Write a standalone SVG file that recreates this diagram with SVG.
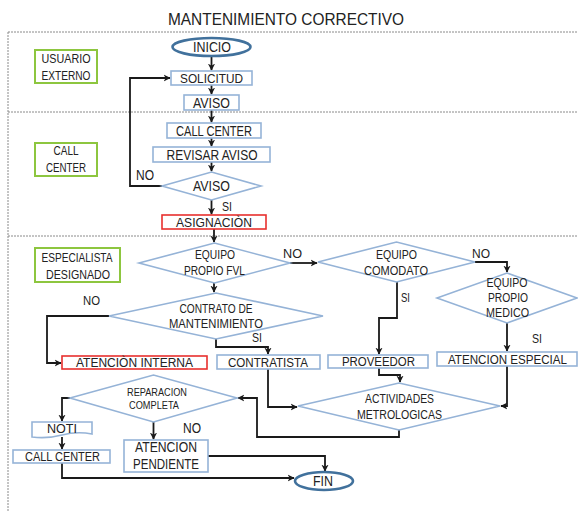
<svg xmlns="http://www.w3.org/2000/svg" width="578" height="511" viewBox="0 0 578 511">
<defs>
<marker id="ah" viewBox="0 0 10 10" refX="9" refY="5" markerWidth="4" markerHeight="4" orient="auto" markerUnits="strokeWidth">
<path d="M0,0 L10,5 L0,10 L3,5 Z" fill="#1a1a1a"/>
</marker>
<style>
text{font-family:"Liberation Sans",Arial,sans-serif;fill:#222;text-anchor:middle}
.t14{font-size:14px}
.t13{font-size:13px}
.t12{font-size:12px}
.t10{font-size:10px}
.box{fill:#fff;stroke:#95B3D7;stroke-width:1.6}
.red{fill:#fff;stroke:#E8302E;stroke-width:1.6}
.lane{fill:#fff;stroke:#8DC63F;stroke-width:2}
.term{fill:#fff;stroke:#41719C;stroke-width:2.6}
.div{stroke:#8a8a8a;stroke-width:1;stroke-dasharray:2,1;fill:none}
.c{fill:none;stroke:#1a1a1a;stroke-width:1.8;marker-end:url(#ah)}
</style>
</defs>
<rect width="578" height="511" fill="#fff"/>
<text x="286" y="25" style="font-size:16px" textLength="236" lengthAdjust="spacingAndGlyphs">MANTENIMIENTO CORRECTIVO</text>
<g id="lanes">
<path class="div" d="M8,32 H578 M8,112 H578 M8,236 H578 M8,32 V511"/>
</g>
<g id="lane-usuario"><rect class="lane" x="35" y="50" width="62" height="33"/>
<text class="t13" x="66" y="63" textLength="49" lengthAdjust="spacingAndGlyphs">USUARIO</text>
<text class="t13" x="66" y="80" textLength="49" lengthAdjust="spacingAndGlyphs">EXTERNO</text></g>
<g id="lane-callcenter"><rect class="lane" x="35" y="143" width="62" height="33"/>
<text class="t13" x="66" y="155" textLength="25" lengthAdjust="spacingAndGlyphs">CALL</text>
<text class="t13" x="66" y="172" textLength="40" lengthAdjust="spacingAndGlyphs">CENTER</text></g>
<g id="lane-especialista"><rect class="lane" x="35" y="248" width="85" height="34"/>
<text class="t12" x="77" y="262" textLength="71" lengthAdjust="spacingAndGlyphs">ESPECIALISTA</text>
<text class="t12" x="78" y="279" textLength="64" lengthAdjust="spacingAndGlyphs">DESIGNADO</text></g>

<g id="connectors">
<path class="c" d="M211.5,56 V70"/>
<path class="c" d="M211.5,85 V94"/>
<path class="c" d="M211.5,110 V122"/>
<path class="c" d="M211.5,138 V146"/>
<path class="c" d="M211.5,162 V171"/>
<path class="c" d="M211.5,200 V214"/>
<path class="c" d="M162,186 H130 V78 H170"/>
<path class="c" d="M214,229 V242"/>
<path class="c" d="M214,283 V292"/>
<path class="c" d="M290,263 H317"/>
<path class="c" d="M475,262 H507 V272"/>
<path class="c" d="M397,282 V318 H379 V354"/>
<path class="c" d="M507,323 V351"/>
<path class="c" d="M109,316 H47 V363 H61"/>
<path class="c" d="M216,339 V347 H268 V354"/>
<path class="c" d="M268,369 V407 H297"/>
<path class="c" d="M379,368 V375 H400 V382"/>
<path class="c" d="M507,366 V406 H501"/>
<path class="c" d="M399,430 V437 H257 V398 H238"/>
<path class="c" d="M70,398 H62 V421"/>
<path class="c" d="M62,437 V449"/>
<path class="c" d="M62,463 V478 H294"/>
<path class="c" d="M153.5,422 V439"/>
<path class="c" d="M208,456 H325 V471"/>
<text class="t14" x="145" y="180" textLength="18" lengthAdjust="spacingAndGlyphs">NO</text>
<text class="t13" x="227" y="211" textLength="10" lengthAdjust="spacingAndGlyphs">SI</text>
<text class="t13" x="292.5" y="258" textLength="19" lengthAdjust="spacingAndGlyphs">NO</text>
<text class="t13" x="91.5" y="305" textLength="17" lengthAdjust="spacingAndGlyphs">NO</text>
<text class="t13" x="257" y="342" textLength="10" lengthAdjust="spacingAndGlyphs">SI</text>
<text class="t13" x="481" y="258" textLength="18" lengthAdjust="spacingAndGlyphs">NO</text>
<text class="t13" x="405.5" y="302" textLength="9" lengthAdjust="spacingAndGlyphs">SI</text>
<text class="t13" x="537" y="343" textLength="10" lengthAdjust="spacingAndGlyphs">SI</text>
<text class="t14" x="192" y="433" textLength="18" lengthAdjust="spacingAndGlyphs">NO</text>
</g>

<g id="inicio"><ellipse class="term" cx="211.5" cy="47" rx="39" ry="9"/>
<text class="t14" x="212" y="52" textLength="38" lengthAdjust="spacingAndGlyphs">INICIO</text></g>
<g id="solicitud"><rect class="box" x="171" y="71" width="81" height="14"/>
<text class="t13" x="211.5" y="83" textLength="63" lengthAdjust="spacingAndGlyphs">SOLICITUD</text></g>
<g id="aviso"><rect class="box" x="184" y="95" width="55" height="15"/>
<text class="t14" x="211.5" y="108" textLength="37" lengthAdjust="spacingAndGlyphs">AVISO</text></g>
<g id="callcenter"><rect class="box" x="167" y="123" width="94" height="15"/>
<text class="t14" x="214" y="136" textLength="76" lengthAdjust="spacingAndGlyphs">CALL CENTER</text></g>
<g id="revisar"><rect class="box" x="153" y="147" width="117" height="15"/>
<text class="t14" x="212" y="160" textLength="91" lengthAdjust="spacingAndGlyphs">REVISAR AVISO</text></g>
<g id="aviso-decision"><polygon class="box" points="162,186 211.5,172 261,186 211.5,200"/>
<text class="t14" x="211.5" y="191" textLength="37" lengthAdjust="spacingAndGlyphs">AVISO</text></g>
<g id="asignacion"><rect class="red" x="162" y="215" width="104" height="14"/>
<text class="t13" x="214" y="227" textLength="76" lengthAdjust="spacingAndGlyphs">ASIGNACIÒN</text></g>

<g id="equipo-fvl"><polygon class="box" points="139,263 214.5,243 290,263 214.5,283"/>
<text class="t12" x="215" y="259" textLength="40" lengthAdjust="spacingAndGlyphs">EQUIPO</text>
<text class="t12" x="214.5" y="275" textLength="61" lengthAdjust="spacingAndGlyphs">PROPIO FVL</text></g>
<g id="equipo-comodato"><polygon class="box" points="318,262 396.5,242 475,262 396.5,282"/>
<text class="t12" x="396.5" y="259" textLength="41" lengthAdjust="spacingAndGlyphs">EQUIPO</text>
<text class="t12" x="396" y="275" textLength="64" lengthAdjust="spacingAndGlyphs">COMODATO</text></g>
<g id="equipo-medico"><polygon class="box" points="437,298 507,273 577,298 507,323"/>
<text class="t12" x="507" y="287" textLength="41" lengthAdjust="spacingAndGlyphs">EQUIPO</text>
<text class="t12" x="508" y="302" textLength="40" lengthAdjust="spacingAndGlyphs">PROPIO</text>
<text class="t12" x="507.5" y="317" textLength="43" lengthAdjust="spacingAndGlyphs">MEDICO</text></g>
<g id="contrato"><polygon class="box" points="109,316 216,293 323,316 216,339"/>
<text class="t12" x="216" y="313" textLength="73" lengthAdjust="spacingAndGlyphs">CONTRATO DE</text>
<text class="t12" x="216" y="328" textLength="94" lengthAdjust="spacingAndGlyphs">MANTENIMIENTO</text></g>
<g id="atencion-interna"><rect class="red" x="62" y="356" width="145" height="13"/>
<text class="t12" x="134.5" y="367" textLength="117" lengthAdjust="spacingAndGlyphs">ATENCIÒN INTERNA</text></g>
<g id="contratista"><rect class="box" x="217" y="355" width="103" height="14"/>
<text class="t12" x="268" y="366.5" textLength="80" lengthAdjust="spacingAndGlyphs">CONTRATISTA</text></g>
<g id="proveedor"><rect class="box" x="328" y="355" width="100" height="13"/>
<text class="t12" x="378.5" y="366" textLength="73" lengthAdjust="spacingAndGlyphs">PROVEEDOR</text></g>
<g id="atencion-especial"><rect class="box" x="437" y="352" width="140" height="14"/>
<text class="t12" x="507.5" y="363.5" textLength="119" lengthAdjust="spacingAndGlyphs">ATENCION ESPECIAL</text></g>
<g id="actividades"><polygon class="box" points="298,406 399,383 500,406 399,430"/>
<text class="t12" x="399.5" y="403" textLength="69" lengthAdjust="spacingAndGlyphs">ACTIVIDADES</text>
<text class="t12" x="399.5" y="419" textLength="85" lengthAdjust="spacingAndGlyphs">METROLOGICAS</text></g>
<g id="reparacion"><polygon class="box" points="70,398 153.5,375 237,398 153.5,422"/>
<text class="t10" x="157" y="396" textLength="60" lengthAdjust="spacingAndGlyphs">REPARACION</text>
<text class="t10" x="154" y="409" textLength="50" lengthAdjust="spacingAndGlyphs">COMPLETA</text></g>
<g id="noti"><path class="box" d="M32,422 H92 V434 Q77,431 62,435 T32,437 Z"/>
<text class="t13" x="62" y="433" textLength="30" lengthAdjust="spacingAndGlyphs">NOTI</text></g>
<g id="callcenter-2"><rect class="box" x="13" y="450" width="97" height="13"/>
<text class="t12" x="62.5" y="461" textLength="75" lengthAdjust="spacingAndGlyphs">CALL CENTER</text></g>
<g id="atencion-pendiente"><rect class="box" x="124" y="440" width="84" height="32"/>
<text class="t14" x="166" y="452" textLength="62" lengthAdjust="spacingAndGlyphs">ATENCION</text>
<text class="t14" x="166" y="469" textLength="66" lengthAdjust="spacingAndGlyphs">PENDIENTE</text></g>
<g id="fin"><ellipse class="term" cx="324" cy="481" rx="29" ry="9"/>
<text class="t14" x="323" y="486" textLength="20" lengthAdjust="spacingAndGlyphs">FIN</text></g>
</svg>
